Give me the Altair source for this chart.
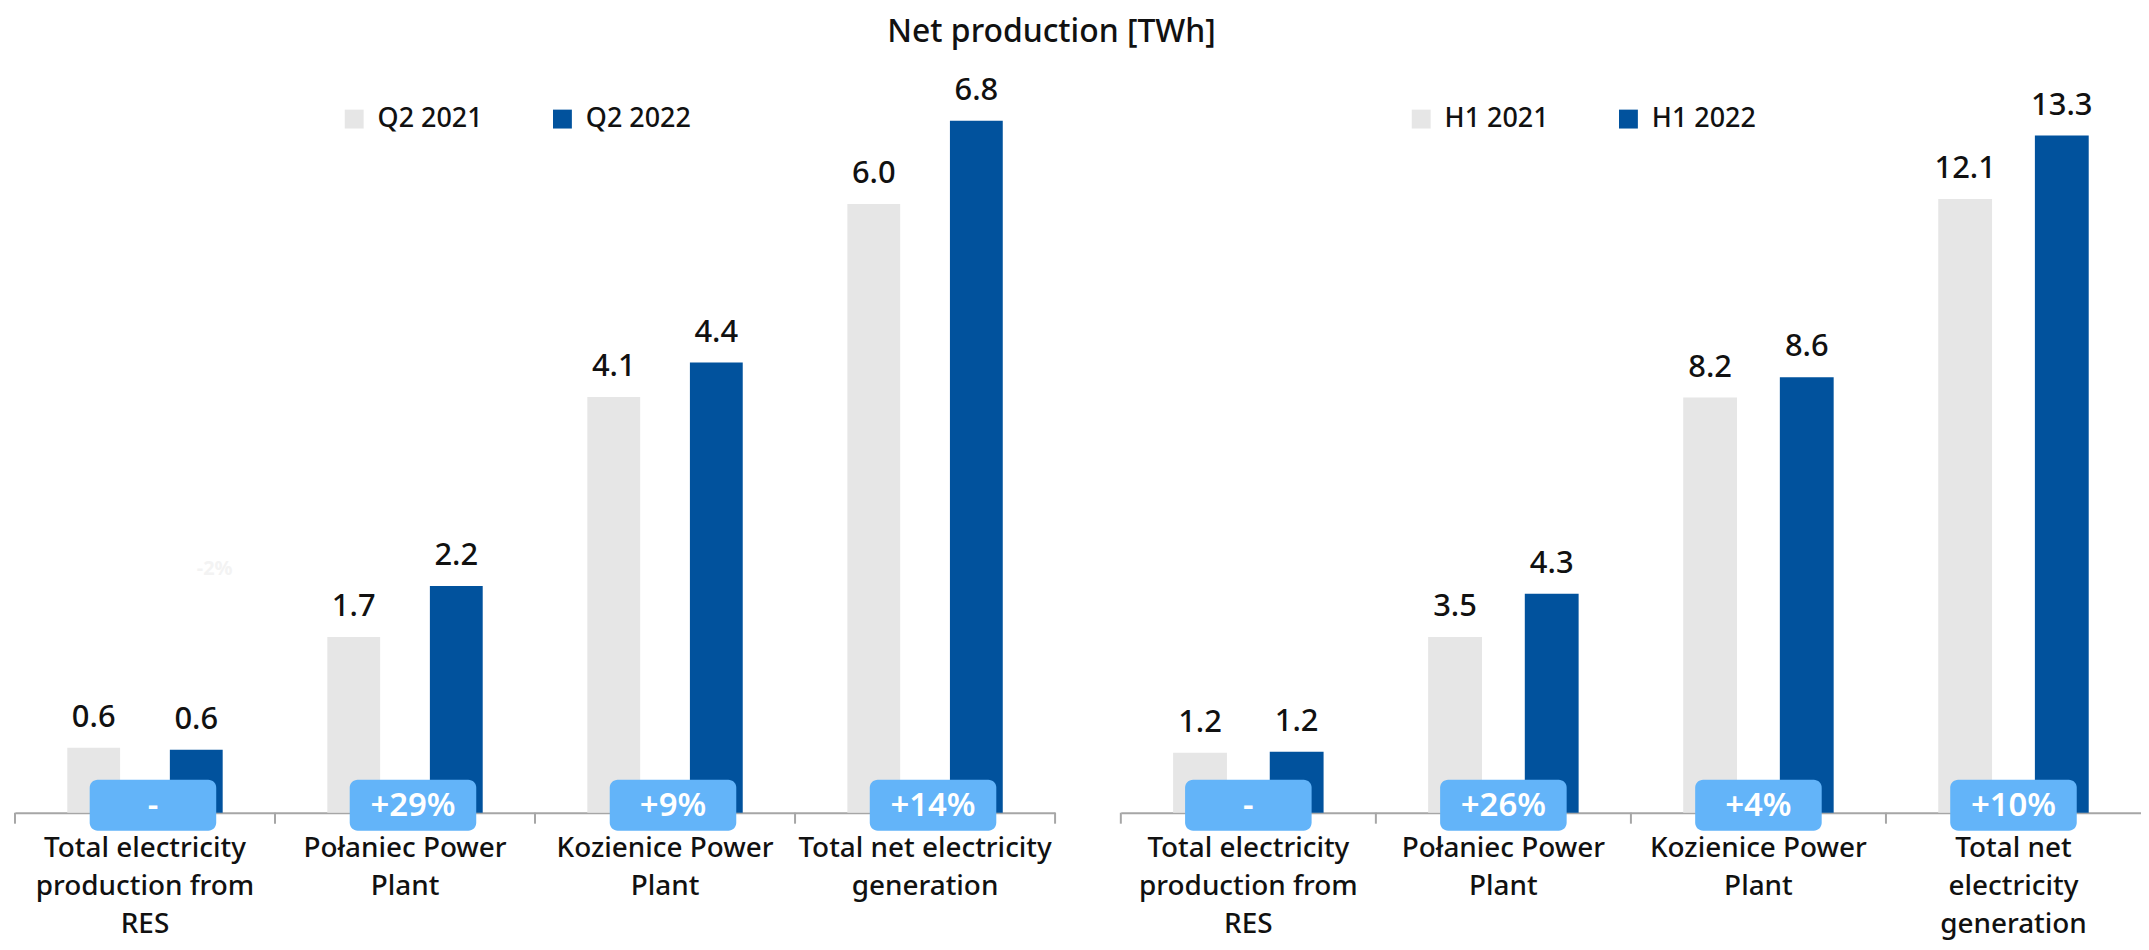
import altair as alt
import pandas as pd

FONT = "Noto Sans"
GRAY = "#E6E6E6"
BLUE = "#01529D"
BOX = "#63B4F9"
AXIS = "#A6A6A6"
INK = "#111111"

title_text = "Net production [TWh]"

categories_left = ["Total electricity|production from|RES", "Połaniec Power|Plant",
                   "Kozienice Power|Plant", "Total net electricity|generation"]
categories_right = ["Total electricity|production from|RES", "Połaniec Power|Plant",
                    "Kozienice Power|Plant", "Total net|electricity|generation"]
series_left = ["Q2 2021", "Q2 2022"]
series_right = ["H1 2021", "H1 2022"]

values_q2_2021 = [0.64, 1.73, 4.09, 5.99]
values_q2_2022 = [0.62, 2.23, 4.43, 6.81]
values_h1_2021 = [1.18, 3.46, 8.17, 12.08]
values_h1_2022 = [1.2, 4.31, 8.57, 13.33]

change_left = ["-", "+29%", "+9%", "+14%"]
change_right = ["-", "+26%", "+4%", "+10%"]

ghost_label = ["-2%"]

W8 = 500


def panel(cats, series, v1, v2, pct, ymax, width, legend_x, box_dx, pad_inner, pad_outer,
          end_tick, ghost=None):
    H = 714
    bars_df = pd.DataFrame({
        "category": cats * 2,
        "series": [series[0]] * len(cats) + [series[1]] * len(cats),
        "value": v1 + v2,
    })
    xs = alt.Scale(paddingInner=0, paddingOuter=0)
    x_axis = alt.X("category:N", sort=cats, scale=xs,
                   axis=alt.Axis(title=None, labelAngle=0, ticks=False, domainColor=AXIS,
                                 domainWidth=2, labelExpr="split(datum.label, '|')",
                                 labelFontSize=28, labelLineHeight=38, labelPadding=22,
                                 labelColor=INK, labelFont=FONT, labelLimit=500,
                                 labelFontWeight=W8, labelBaseline="top"))
    x_plain = alt.X("category:N", sort=cats, scale=xs)
    xo = alt.XOffset("series:N", sort=series,
                     scale=alt.Scale(paddingInner=pad_inner, paddingOuter=pad_outer))
    y = alt.Y("value:Q", scale=alt.Scale(domain=[0, ymax], nice=False, zero=True), axis=None)

    base = alt.Chart(bars_df)
    bars = base.mark_bar().encode(
        x=x_axis, xOffset=xo, y=y,
        color=alt.Color("series:N", sort=series,
                        scale=alt.Scale(domain=series, range=[GRAY, BLUE]),
                        legend=alt.Legend(orient="none", legendX=legend_x, legendY=4,
                                          direction="horizontal", title=None,
                                          symbolType="square", symbolSize=360,
                                          symbolStrokeWidth=0, labelFontSize=27,
                                          labelFont=FONT, labelColor=INK, labelOffset=10,
                                          labelFontWeight=W8, columnPadding=66)),
    )
    texts = base.mark_text(baseline="alphabetic", dy=-21, fontSize=31, font=FONT,
                           fontWeight=W8, color=INK).encode(
        x=x_plain, xOffset=xo, y=y, text=alt.Text("value:Q", format=".1f"))

    cat_df = pd.DataFrame({"category": cats, "pct": pct})
    boxes = alt.Chart(cat_df).mark_bar(width=127, cornerRadius=8, color=BOX,
                                       xOffset=box_dx).encode(
        x=x_plain, y=alt.value(681), y2=alt.value(732))
    pct_text = alt.Chart(cat_df).mark_text(color="white", fontSize=33, font=FONT,
                                           fontWeight=600, baseline="middle",
                                           xOffset=box_dx).encode(
        x=x_plain, y=alt.value(707), text="pct:N")
    ticks = alt.Chart(cat_df).mark_rule(color=AXIS, strokeWidth=2).encode(
        x=alt.X("category:N", sort=cats, scale=xs, bandPosition=0),
        y=alt.value(H), y2=alt.value(H + 11))
    layers = [bars, texts, boxes, pct_text, ticks]
    if end_tick:
        last = alt.Chart(cat_df).transform_filter(
            alt.datum.category == cats[-1]).mark_rule(color=AXIS, strokeWidth=2).encode(
            x=alt.X("category:N", sort=cats, scale=xs, bandPosition=1),
            y=alt.value(H), y2=alt.value(H + 11))
        layers.append(last)
    if ghost:
        gdf = pd.DataFrame({"category": [cats[0]], "txt": ghost})
        g = alt.Chart(gdf).mark_text(color="#F3F3F3", fontSize=20, font=FONT,
                                     fontWeight="bold", dx=70).encode(
            x=x_plain, y=alt.value(469), text="txt:N")
        layers.append(g)
    return alt.layer(*layers).properties(width=width, height=H)


left = panel(categories_left, series_left, values_q2_2021, values_q2_2022, change_left,
             7.0, 1044, 327, 8, 0.485, 0.51, True, ghost_label)
right = panel(categories_right, series_right, values_h1_2021, values_h1_2022, change_right,
              14.0, 1024, 288, 0, 0.443, 0.541, False)

chart = alt.hconcat(
    left, right, spacing=64,
    title=alt.Title(title_text, fontSize=32, font=FONT, anchor="middle", offset=26, dx=-26,
                    color=INK, fontWeight=W8),
).resolve_scale(color="independent", x="independent", y="independent",
                xOffset="independent").properties(
    padding={"left": 6, "top": 6, "right": 0, "bottom": 0}
).configure(font=FONT).configure_view(stroke=None)

chart.save("out.html", embed_options={"renderer": "svg", "actions": False})
